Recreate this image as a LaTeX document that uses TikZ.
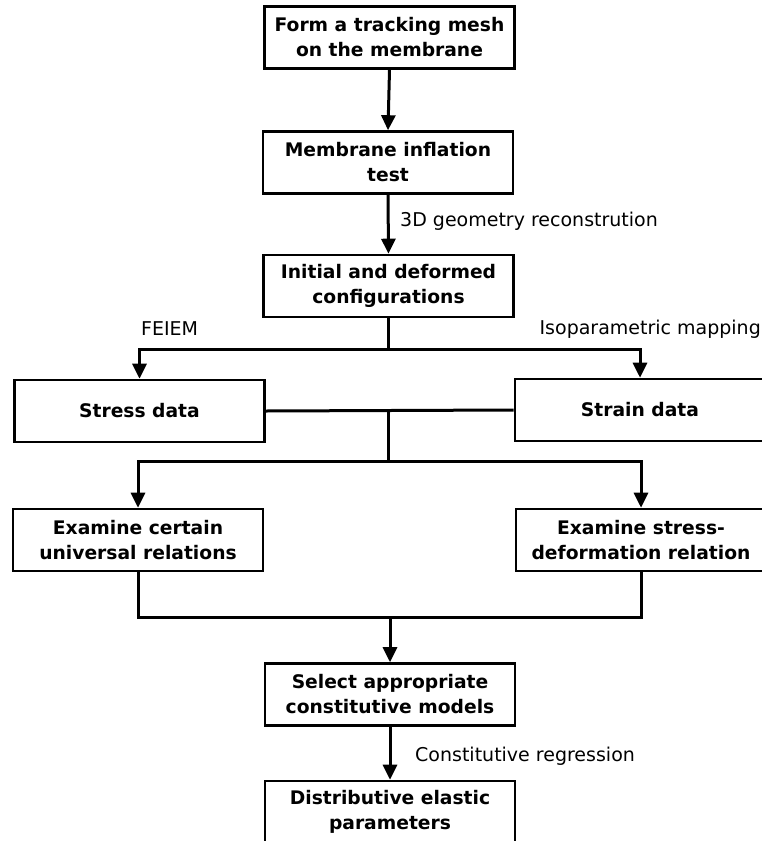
\documentclass[tikz,border=0pt]{standalone}
\usepackage{fontspec}
\setmainfont{DejaVu Sans}
\usetikzlibrary{arrows.meta,calc}
\begin{document}
\begin{tikzpicture}[x=1pt,y=-1pt,
  box/.style={draw,line width=2.6pt,minimum width=250pt,minimum height=62pt,align=center,
    font=\fontsize{18.7}{25}\selectfont\bfseries,inner sep=0pt},
  conn/.style={line width=3pt},
  arr/.style={line width=3pt,-{Triangle[length=15pt,width=14pt]}},
  lab/.style={font=\fontsize{19}{22}\selectfont,inner sep=0pt}]
\useasboundingbox (0,0) rectangle (762,841);
\clip (0,0) rectangle (762,841);
\node[box] (b1) at (389.5,37.5) {Form a tracking mesh\\on the membrane};
\node[box] (b2) at (388,162.5) {Membrane inflation\\test};
\node[box] (b3) at (388.5,286) {Initial and deformed\\configurations};
\node[box] (stress) at (139.5,411) {Stress data};
\node[box] (strain) at (640,410) {Strain data};
\node[box] (ex1) at (138,540) {Examine certain\\universal relations};
\node[box] (ex2) at (641,540) {Examine stress-\\deformation relation};
\node[box] (sel) at (390,694.5) {Select appropriate\\constitutive models};
\node[box] (dist) at (390,812) {Distributive elastic\\parameters};
% labels
\node[lab,anchor=west] (l3d) at (400,221) {3D geometry reconstrution};
\node[lab,anchor=west] (lfe) at (141,329) {FEIEM};
\node[lab,anchor=east] (liso) at (761,329) {Isoparametric mapping};
\node[lab,anchor=west] (lcr) at (415,756) {Constitutive regression};
% coordinates
\coordinate (j1) at (388.5,349);
\coordinate (j1l) at (139.5,349);
\coordinate (j1r) at (640,349);
\coordinate (j2) at (388.5,410);
\coordinate (j2b) at (388.5,461);
\coordinate (j2l) at (138,461);
\coordinate (j2r) at (641,461);
\coordinate (j3l) at (138,617);
\coordinate (j3r) at (641,617);
\coordinate (j3) at (390,617);
% connectors
\draw[arr] (b1.south) -- (b2.north);
\draw[arr] (b2.south) -- (b3.north);
\draw[conn] (b3.south) -- (j1);
\draw[arr] (j1) -- (j1l) -- (stress.north);
\draw[arr] (j1) -- (j1r) -- (strain.north);
\draw[conn] (stress.east) -- (strain.west);
\draw[conn] (j2) -- (j2b);
\draw[arr] (j2b) -- (j2l) -- (ex1.north);
\draw[arr] (j2b) -- (j2r) -- (ex2.north);
\draw[conn] (ex1.south) -- (j3l) -- (j3r) -- (ex2.south);
\draw[arr] (j3) -- (sel.north);
\draw[arr] (sel.south) -- (dist.north);
\end{tikzpicture}
\end{document}
